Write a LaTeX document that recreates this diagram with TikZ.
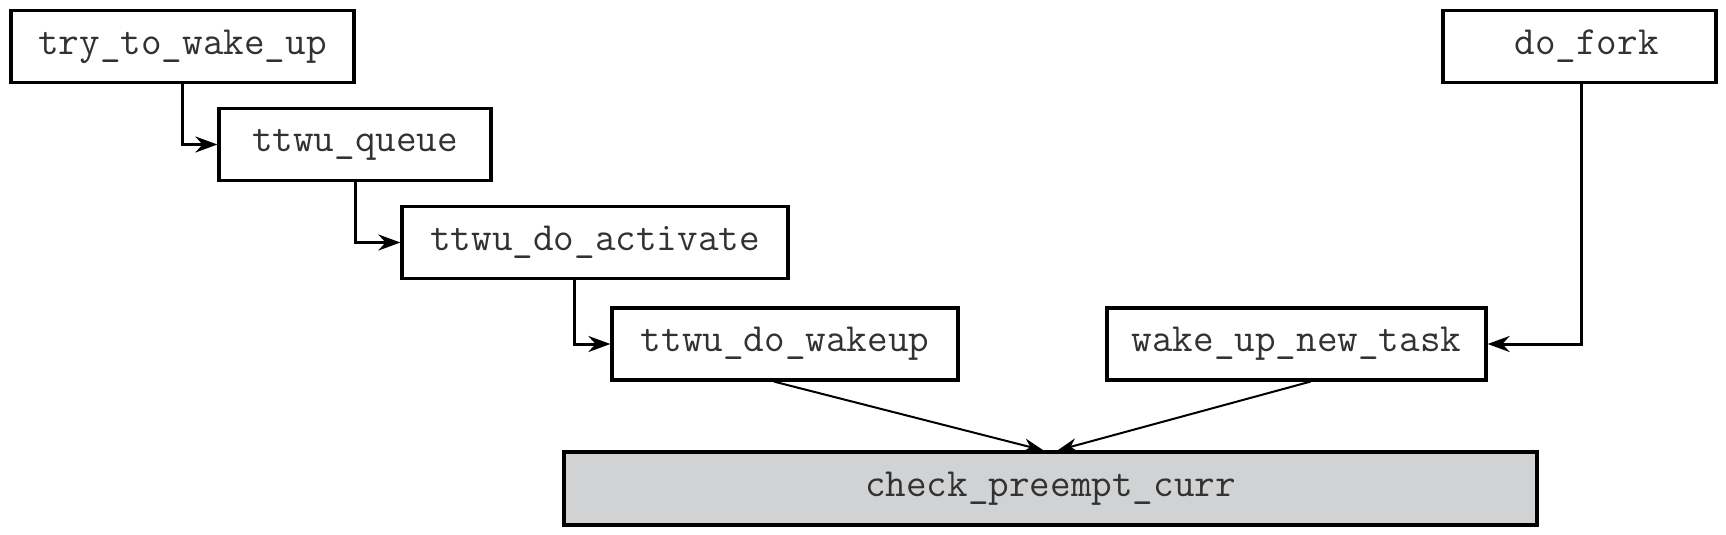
\documentclass[tikz,border=0pt]{standalone}
\usetikzlibrary{arrows.meta}
\definecolor{boxgray}{RGB}{209,210,212}
\definecolor{txt}{RGB}{50,50,50}
\tikzset{
  fn/.style={draw=black, line width=1.6pt, inner sep=0pt, text=txt,
    font=\ttfamily\fontsize{20pt}{22pt}\selectfont, minimum height=36pt},
  arr/.style={line width=1.5pt, -{Stealth[length=11pt,width=8pt]}},
  darr/.style={line width=1pt, -{Stealth[length=10pt,width=7pt]}}
}
\begin{document}
\begin{tikzpicture}[x=0.5pt,y=-0.5pt]
\useasboundingbox (0,0) rectangle (1726,535);
\node[fn, minimum width=171.5pt] (try) at (182.5,46.5) {try\_to\_wake\_up};
\node[fn, minimum width=136pt] (queue) at (355,144.5) {ttwu\_queue};
\node[fn, minimum width=193pt] (act) at (595,242.5) {ttwu\_do\_activate};
\node[fn, minimum width=173pt] (wake) at (785,344) {ttwu\_do\_wakeup};
\node[fn, minimum width=189.5pt] (newt) at (1296.5,344) {wake\_up\_new\_task};
\node[fn, minimum width=136.5pt, text width=120pt, align=center] (fork) at (1579.5,46.5) {\hspace*{7pt}do\_fork};
\node[fn, fill=boxgray, minimum width=486.5pt, minimum height=36.5pt] (check) at (1050.5,488.5) {check\_preempt\_curr};
\draw[arr] (try.south) |- (queue.west);
\draw[arr] (queue.south) |- (act.west);
\draw[arr] ([xshift=-10.5pt]act.south) |- (wake.west);
\draw[arr] ([xshift=0.75pt]fork.south) |- (newt.east);
\draw[darr] ([xshift=-5.5pt]wake.south) -- ([xshift=-3.5pt]check.north);
\draw[darr] ([xshift=7pt]newt.south) -- ([xshift=3.5pt]check.north);
\end{tikzpicture}
\end{document}
